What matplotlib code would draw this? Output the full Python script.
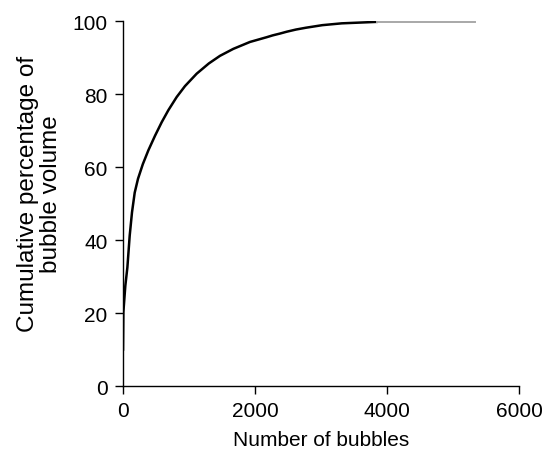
import matplotlib
matplotlib.use("Agg")
import matplotlib.pyplot as plt

plt.rcParams['font.family'] = ['Liberation Sans', 'DejaVu Sans']

# cumulative curve
n_bubbles = [0, 5, 35, 66, 101, 136, 177, 227, 300, 384, 485, 586, 687, 813,
             939, 1116, 1300, 1470, 1671, 1924, 2177, 2268, 2379, 2480, 2621,
             2773, 3020, 3314, 3844]
cum_pct = [10, 20.2, 27.5, 32.5, 41.2, 47.6, 53.0, 56.8, 60.8, 64.6, 68.6,
           72.3, 75.6, 79.2, 82.2, 85.6, 88.4, 90.5, 92.4, 94.3, 95.6, 96.1,
           96.6, 97.1, 97.7, 98.2, 98.9, 99.4, 99.8]

# flat tail (grey)
tail_x = [3844, 5330]
tail_y = [99.9, 99.9]

fig = plt.figure(figsize=(5.48, 4.52), dpi=100)
ax = fig.add_axes([0.2245, 0.1438, 0.7225, 0.8072])

ax.plot(n_bubbles, cum_pct, color='black', lw=1.8)
ax.plot(tail_x, tail_y, color='#a8a8a8', lw=1.4)

ax.set_xlim(0, 6000)
ax.set_ylim(0, 100)
ax.set_xticks([0, 2000, 4000, 6000])
ax.set_yticks([0, 20, 40, 60, 80, 100])
ax.spines['top'].set_visible(False)
ax.spines['right'].set_visible(False)
for s in ['left', 'bottom']:
    ax.spines[s].set_linewidth(1.0)
ax.tick_params(direction='out', length=6, width=1.0, labelsize=15, pad=5)

ax.set_xlabel("Number of bubbles", fontsize=15, labelpad=7)
ax.set_ylabel("Cumulative percentage of\nbubble volume", fontsize=17.5,
              linespacing=1.05)
ax.yaxis.set_label_coords(-0.155, 0.53)

fig.savefig("out.png", dpi=100)
